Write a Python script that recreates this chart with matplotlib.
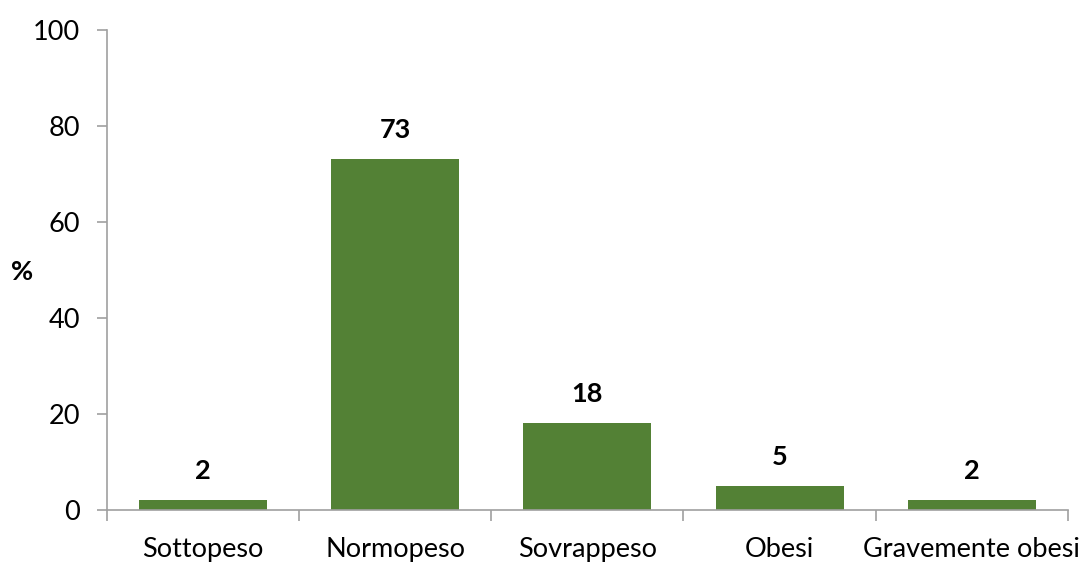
import matplotlib.pyplot as plt
import numpy as np

categories = ["Sottopeso", "Normopeso", "Sovrappeso", "Obesi", "Gravemente obesi"]
values = [2, 73, 18, 5, 2]
yticks = [0, 20, 40, 60, 80, 100]

plt.rcParams["font.family"] = ["Lato", "DejaVu Sans"]

fig = plt.figure(figsize=(10.84, 5.62), dpi=100)
ax = fig.add_axes([0.0984, 0.0934, 0.8868, 0.8541])

x = np.arange(len(categories))
bars = ax.bar(x, values, width=0.666, color="#538135")

for b, v in zip(bars, values):
    ax.annotate(str(v), (b.get_x() + b.get_width() / 2, v), xytext=(0, 12),
                textcoords="offset points", ha="center", va="bottom",
                fontsize=19.5, fontweight="bold", color="black")

ax.set_xlim(-0.5, len(categories) - 0.5)
ax.set_ylim(0, 100)
ax.set_yticks(yticks)
ax.set_xticks(x)
ax.set_xticklabels(categories)
ax.set_xticks(np.arange(len(categories) + 1) - 0.5, minor=True)

for s in ["top", "right"]:
    ax.spines[s].set_visible(False)
for s in ["left", "bottom"]:
    ax.spines[s].set_color("#a0a0a0")
    ax.spines[s].set_linewidth(1.2)

ax.tick_params(axis="y", length=7, width=1.2, color="#a0a0a0", pad=12, labelsize=19.5)
ax.tick_params(axis="x", which="major", length=0, pad=20, labelsize=19.5)
ax.tick_params(axis="x", which="minor", length=8, width=1.2, color="#a0a0a0")

fig.text(22 / 1084, 1 - 272 / 562, "%", fontsize=19.5, fontweight="bold",
         ha="center", va="center")

fig.savefig("out.png", dpi=100)
